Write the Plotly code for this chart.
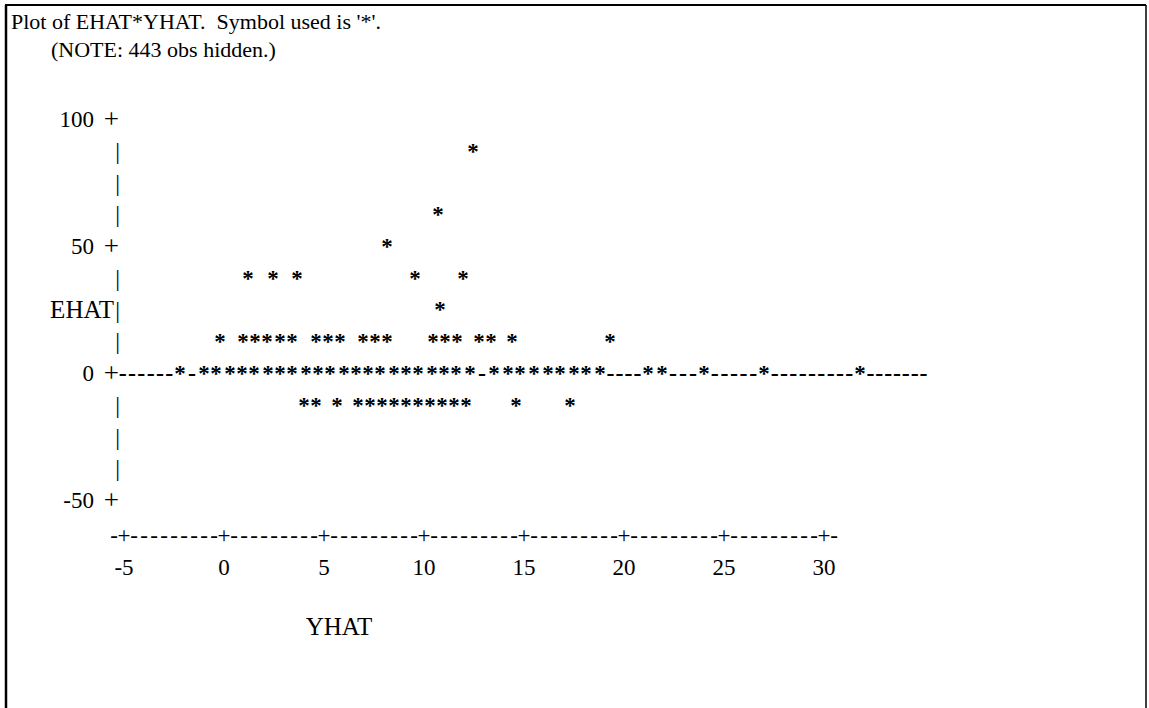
import plotly.graph_objects as go

# ---- data (YHAT on x, EHAT on y) ----
yhat_r875 = [12.45]
yhat_r625 = [10.7]
yhat_r500 = [8.15]
yhat_r375 = [1.2, 2.45, 3.65, 9.55, 11.95]
yhat_r250 = [10.8]
yhat_r125 = [-0.2, 0.95, 1.55, 2.15, 2.8, 3.4, 4.6, 5.2, 5.8, 6.95, 7.55, 8.15,
             10.45, 11.05, 11.65, 12.75, 13.35, 14.4, 19.3]
yhat_r000 = [-2.2, -1.0, -0.4, 0.3, 0.9, 1.5, 2.2, 2.8, 3.4, 4.1, 4.7, 5.3, 6.0,
             6.6, 7.2, 7.8, 8.5, 9.1, 9.7, 10.4, 11.0, 11.6, 12.3,
             13.5, 14.2, 14.8, 15.5, 16.2, 16.8, 17.5, 18.1, 18.8,
             21.2, 21.9, 24.0, 27.0, 31.8]
yhat_rm125 = [4.0, 4.6, 5.65, 6.7, 7.3, 7.9, 8.5, 9.1, 9.7, 10.3, 10.9, 11.5, 12.1,
              14.6, 17.3]

rows = [(87.5, yhat_r875), (62.5, yhat_r625), (50.0, yhat_r500), (37.5, yhat_r375),
        (25.0, yhat_r250), (12.5, yhat_r125), (0.0, yhat_r000), (-12.5, yhat_rm125)]

# axis definitions
y_tick_rows = [100, 50, 0, -50]
y_tick_labels = ["100", "50", "0", "-50"]
y_bar_rows = [87.5, 75, 62.5, 37.5, 25, 12.5, -12.5, -25, -37.5]
x_ticks = [-5, 0, 5, 10, 15, 20, 25, 30]
x_tick_labels = ["-5", "0", "5", "10", "15", "20", "25", "30"]

title1 = "Plot of EHAT*YHAT.  Symbol used is '*'."
title2 = "(NOTE: 443 obs hidden.)"
x_label = "YHAT"
y_label = "EHAT"

FONT = "Liberation Serif"
FS = 22

# pixel mapping (figure is 1149 x 708, plot area fills it)
W, H = 1149, 708
X0PX, XSCALE = 224.0, 20.0      # px = 224 + 20*x
Y0PX, YSCALE = 375.0, 2.54      # px = 375 - 2.54*y
x_range = [(0 - X0PX) / XSCALE, (W - X0PX) / XSCALE]
y_range = [(Y0PX - H) / YSCALE, (Y0PX - 0) / YSCALE]

pt_x, pt_y = [], []
for yv, xs in rows:
    for xv in xs:
        pt_x.append(xv)
        pt_y.append(yv)


def txt(x, y, text, pos="middle center", size=FS, weight="normal"):
    return go.Scatter(x=x, y=y, mode="text", text=text, textposition=pos,
                      textfont=dict(family=FONT, size=size, color="black", weight=weight),
                      hoverinfo="skip", showlegend=False)


fig = go.Figure()

# dashes filling the zero reference row between stars
zero_stars = sorted(yhat_r000)
axis_left = -5.3
row_right = 35.2
half = 0.3
pitch = 0.45
dash_x = []
prev_end = axis_left
for s in zero_stars + [None]:
    seg_start = prev_end
    seg_end = row_right if s is None else s - half
    length = seg_end - seg_start
    n = int(length / pitch + 0.3) if length > 0 else 0
    for i in range(n):
        dash_x.append(seg_start + (i + 0.5) * length / n)
    if s is not None:
        prev_end = s + half
fig.add_trace(txt(dash_x, [0] * len(dash_x), ["-"] * len(dash_x), size=24, weight="bold"))

# stars
fig.add_trace(txt(pt_x, pt_y, ["*"] * len(pt_x), size=23, weight="bold"))

# vertical axis: "+" at labelled rows, "|" elsewhere
AXX = -5.25
fig.add_trace(txt([AXX] * len(y_tick_rows), y_tick_rows, ["+"] * len(y_tick_rows),
                  pos="middle left", size=27))
fig.add_trace(txt([-6.5] * len(y_tick_rows), y_tick_rows, y_tick_labels,
                  pos="middle left", size=23))
fig.add_trace(txt([AXX + 0.05] * len(y_bar_rows), y_bar_rows, ["|"] * len(y_bar_rows),
                  pos="middle left", size=24))
fig.add_trace(txt([AXX - 0.25], [25], [y_label], pos="middle left", size=25))

# horizontal axis row: "-+---------+---- ... +-"
ax_x, ax_t = [], []
for col in range(0, 73):
    ax_x.append(-5.5 + 0.5 * col)
    ax_t.append("+" if (col - 1) % 10 == 0 else "-")
fig.add_trace(txt(ax_x, [-64.0] * len(ax_x), ax_t, size=23))

# tick labels
fig.add_trace(txt(x_ticks, [-76.5] * len(x_ticks), x_tick_labels, size=23))

# axis label and titles
fig.add_trace(txt([5.75], [-100], [x_label], size=25))
fig.add_trace(txt([(11 - X0PX) / XSCALE, (51 - X0PX) / XSCALE],
                  [(Y0PX - 23) / YSCALE, (Y0PX - 51) / YSCALE],
                  [title1, title2], pos="middle right", size=22))

# frame
shapes = [
    dict(type="line", xref="paper", yref="paper", x0=6 / W, x1=6 / W, y0=1 - 5 / H, y1=-0.02,
         line=dict(color="black", width=2.5)),
    dict(type="line", xref="paper", yref="paper", x0=5 / W, x1=1146 / W, y0=1 - 5 / H, y1=1 - 5 / H,
         line=dict(color="black", width=2)),
    dict(type="line", xref="paper", yref="paper", x0=1146 / W, x1=1146 / W, y0=1 - 5 / H, y1=-0.02,
         line=dict(color="black", width=1.5)),
]

fig.update_layout(
    width=W, height=H, margin=dict(l=0, r=0, t=0, b=0),
    paper_bgcolor="white", plot_bgcolor="white",
    xaxis=dict(range=x_range, visible=False, fixedrange=True),
    yaxis=dict(range=y_range, visible=False, fixedrange=True),
    shapes=shapes, showlegend=False,
)

fig.write_html("out.html")
